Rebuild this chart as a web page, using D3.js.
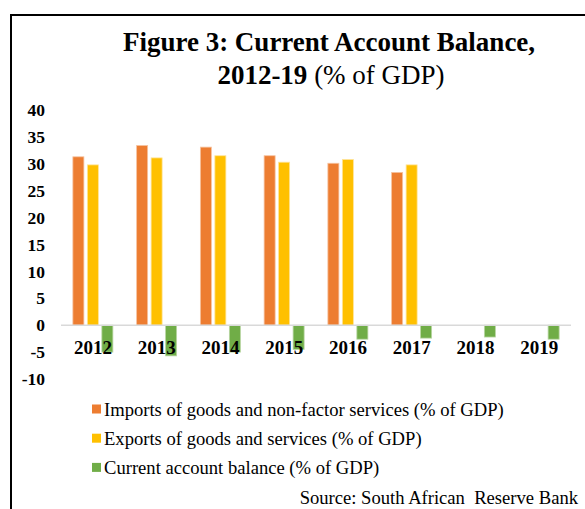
<!DOCTYPE html>
<html><head><meta charset="utf-8">
<script src="https://cdn.jsdelivr.net/npm/d3@7"></script>
<style>body{margin:0;background:#fff;} text{font-family:"Liberation Serif","Times New Roman",serif;}</style>
</head><body><svg id="c" width="585" height="509"></svg>
<script>
const years = ["2012","2013","2014","2015","2016","2017","2018","2019"];
const seriesNames = ["Imports of goods and non-factor services (% of GDP)","Exports of goods and services (% of GDP)","Current account balance (% of GDP)"];
const imports = [31.3, 33.4, 33.1, 31.5, 30.1, 28.4, null, null];
const exportsV = [29.8, 31.1, 31.5, 30.3, 30.8, 29.8, null, null];
const balance = [-5.0, -5.7, -5.0, -4.5, -2.6, -2.4, -2.2, -2.6];
const yTicks = [-10, -5, 0, 5, 10, 15, 20, 25, 30, 35, 40];
const colors = ["#ED7D31", "#FFC000", "#70AD47"];
const strokes = ["#F6C3A0", "#FFE49A", "#B8D6A3"];

const svg = d3.select("#c");
svg.append("rect").attr("width",585).attr("height",509).attr("fill","#fff");
// frame
svg.append("path").attr("d","M11,520 V15 H600").attr("fill","none").attr("stroke","#000").attr("stroke-width",2);

// title
svg.append("text").attr("x",329).attr("y",51).attr("text-anchor","middle").attr("font-size",27).attr("font-weight","bold").text("Figure 3: Current Account Balance,");
const t2 = svg.append("text").attr("x",331).attr("y",84).attr("text-anchor","middle").attr("font-size",27);
t2.append("tspan").attr("font-weight","bold").text("2012-19");
t2.append("tspan").text(" (% of GDP)");

const y = d3.scaleLinear().domain([-10, 40]).range([379, 110]);
const x0 = d3.scaleBand().domain(years).range([61, 571]).padding(0);
const bw = x0.bandwidth();
const x1 = d3.scaleBand().domain([0,1,2]).range([bw/2 - 20, bw/2 + 20]).paddingInner(0.24);

const data = [imports, exportsV, balance];
data.forEach((arr, si) => {
  svg.append("g").selectAll("rect").data(years.map((yr,i)=>({yr, v:arr[i]})).filter(d=>d.v!=null))
    .join("rect")
    .attr("x", d => x0(d.yr) + x1(si))
    .attr("width", x1.bandwidth())
    .attr("y", d => y(Math.max(0, d.v)))
    .attr("height", d => Math.abs(y(d.v) - y(0)))
    .attr("fill", colors[si])
    .attr("stroke", strokes[si]).attr("stroke-width", 0.8);
});

// zero line
svg.append("line").attr("x1",61).attr("x2",571).attr("y1",y(0)).attr("y2",y(0)).attr("stroke","#D9D9D9").attr("stroke-width",1.5);

// y axis
const ya = svg.append("g").attr("transform","translate(48,0)")
  .call(d3.axisLeft(y).tickValues(yTicks).tickSize(0).tickPadding(3).tickFormat(d => String(d)));
ya.select(".domain").remove();
ya.selectAll("text").attr("font-size",17.5).attr("font-weight","bold").attr("fill","#000")
  .style("font-family","'Liberation Serif','Times New Roman',serif");

// x labels
const xa = svg.append("g").attr("transform","translate(0,340)")
  .call(d3.axisBottom(x0).tickSize(0).tickPadding(0));
xa.select(".domain").remove();
xa.selectAll("text").attr("font-size",19).attr("font-weight","bold").attr("fill","#000")
  .attr("dy","0.71em").style("font-family","'Liberation Serif','Times New Roman',serif");

// legend
const leg = svg.append("g");
seriesNames.forEach((n,i) => {
  const cy = 409 + i*29.2;
  leg.append("rect").attr("x",92).attr("y",cy-4.5).attr("width",9).attr("height",9).attr("fill",colors[i]);
  leg.append("text").attr("x",104).attr("y",cy).attr("dy","0.35em").attr("font-size",18.6).text(n);
});
svg.append("text").attr("x",578).attr("y",497).attr("dy","0.35em").attr("text-anchor","end").attr("font-size",18.6)
  .attr("xml:space","preserve").style("white-space","pre").text("Source: South African  Reserve Bank");
</script></body></html>
